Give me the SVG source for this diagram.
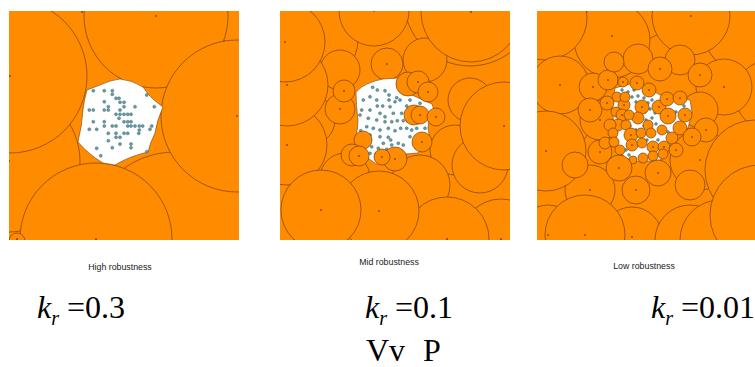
<svg xmlns="http://www.w3.org/2000/svg" width="755" height="367" viewBox="0 0 755 367">
<style>
.o{fill:#FF8C00;stroke:#7a3e0a;stroke-width:0.7}
.h{fill:#fff;stroke:#7a3e0a;stroke-width:0.6}
.d{fill:#6b9ea5;stroke:#3a6870;stroke-width:0.5}
.c{fill:#9b4a1a}
.lab{font-family:"Liberation Sans",Arial,sans-serif;font-size:8.8px;fill:#1a1a1a;text-anchor:middle}
.k{font-family:"Liberation Serif","Times New Roman",serif;font-size:32px;fill:#000}
</style>
<defs>
<clipPath id="cp1"><rect x="9" y="11" width="230" height="229"/></clipPath>
<clipPath id="cp2"><rect x="280" y="11" width="230" height="229"/></clipPath>
<clipPath id="cp3"><rect x="537" y="11" width="218" height="229"/></clipPath>
</defs>
<rect width="755" height="367" fill="#fff"/>

<g id="panel-high" clip-path="url(#cp1)">
<rect x="9" y="11" width="230" height="229" fill="#FF8C00"/>
<circle class="o" cx="260" cy="-5" r="58"/>
<circle class="o" cx="175" cy="240" r="88"/>
<circle class="o" cx="156" cy="16" r="72"/>
<circle class="o" cx="237" cy="116" r="76"/>
<circle class="o" cx="9" cy="161" r="71"/>
<circle class="o" cx="10" cy="76" r="77"/>
<circle class="o" cx="96" cy="239" r="76"/>
<circle class="o" cx="17" cy="241" r="8"/>
<g class="c">
<circle cx="156" cy="16" r="1.1"/><circle cx="10" cy="76" r="1.1"/><circle cx="237" cy="116" r="1.1"/><circle cx="9" cy="161" r="1.1"/><circle cx="96" cy="239" r="1.1"/><circle cx="17" cy="239" r="1.1"/><circle cx="82" cy="12" r="1.1"/>
</g>
<path class="h" d="M120,79 Q132,80 143,87 Q148,95 154,100 L163,107 Q157,120 155,133 Q150,143 148,152 Q130,156 115,165 L103,163 Q88,154 78,142 Q82,126 83,110 Q84,100 87,90 L100,85 Q110,80 120,79 Z"/>
<g class="d">
<circle cx="93.3" cy="90.7" r="1.5"/><circle cx="104.3" cy="90.7" r="1.5"/><circle cx="112.3" cy="90.7" r="1.5"/><circle cx="112.3" cy="94.3" r="1.5"/><circle cx="116" cy="98.3" r="1.5"/><circle cx="119" cy="98.3" r="1.5"/><circle cx="146.7" cy="95" r="1.5"/><circle cx="89.3" cy="110" r="1.5"/><circle cx="93.3" cy="110" r="1.5"/><circle cx="104.3" cy="101.7" r="1.5"/><circle cx="108.3" cy="106.7" r="1.5"/><circle cx="104.3" cy="110" r="1.5"/><circle cx="108.3" cy="110" r="1.5"/><circle cx="120" cy="102.3" r="1.5"/><circle cx="124" cy="102.3" r="1.5"/><circle cx="124" cy="106.7" r="1.5"/><circle cx="135" cy="106.7" r="1.5"/><circle cx="154.3" cy="106.7" r="1.5"/><circle cx="116" cy="114.3" r="1.5"/><circle cx="120" cy="110" r="1.5"/><circle cx="120" cy="114.3" r="1.5"/><circle cx="124" cy="114.3" r="1.5"/><circle cx="127.7" cy="114.3" r="1.5"/><circle cx="131" cy="114.3" r="1.5"/><circle cx="119" cy="118.3" r="1.5"/><circle cx="104.3" cy="121.7" r="1.5"/><circle cx="93.3" cy="121.7" r="1.5"/><circle cx="104.3" cy="126" r="1.5"/><circle cx="112.3" cy="126" r="1.5"/><circle cx="116" cy="126" r="1.5"/><circle cx="124" cy="121.7" r="1.5"/><circle cx="127.7" cy="121.7" r="1.5"/><circle cx="131" cy="121.7" r="1.5"/><circle cx="127.7" cy="126" r="1.5"/><circle cx="131" cy="126" r="1.5"/><circle cx="135" cy="126" r="1.5"/><circle cx="139.3" cy="126" r="1.5"/><circle cx="142.7" cy="126" r="1.5"/><circle cx="139.3" cy="130" r="1.5"/><circle cx="151.7" cy="126" r="1.5"/><circle cx="89.3" cy="129.3" r="1.5"/><circle cx="96.7" cy="129.3" r="1.5"/><circle cx="108.3" cy="133.3" r="1.5"/><circle cx="116" cy="133.3" r="1.5"/><circle cx="124" cy="133.3" r="1.5"/><circle cx="127.7" cy="133.3" r="1.5"/><circle cx="138.7" cy="133.3" r="1.5"/><circle cx="150" cy="129.3" r="1.5"/><circle cx="108.3" cy="140.7" r="1.5"/><circle cx="116" cy="137.3" r="1.5"/><circle cx="120" cy="137.3" r="1.5"/><circle cx="131" cy="144" r="1.5"/><circle cx="131" cy="147.7" r="1.5"/><circle cx="120" cy="144" r="1.5"/><circle cx="112.3" cy="147.7" r="1.5"/><circle cx="96.7" cy="148.3" r="1.5"/><circle cx="100.7" cy="155.7" r="1.5"/><circle cx="146.7" cy="151.7" r="1.5"/>
</g>
</g>

<g id="panel-mid" clip-path="url(#cp2)">
<rect x="280" y="11" width="230" height="229" fill="#FF8C00"/>
<circle class="o" cx="470" cy="0" r="66"/>
<circle class="o" cx="318" cy="40" r="40"/>
<circle class="o" cx="425" cy="60" r="22"/>
<circle class="o" cx="340" cy="70" r="20"/>
<circle class="o" cx="310" cy="120" r="25"/>
<circle class="o" cx="470" cy="100" r="22"/>
<circle class="o" cx="455" cy="150" r="25"/>
<circle class="o" cx="480" cy="165" r="28"/>
<circle class="o" cx="420" cy="185" r="30"/>
<circle class="o" cx="345" cy="178" r="25"/>
<circle class="o" cx="374" cy="11" r="35"/>
<circle class="o" cx="471" cy="12" r="50"/>
<circle class="o" cx="504" cy="126" r="44"/>
<circle class="o" cx="287" cy="145" r="40"/>
<circle class="o" cx="287" cy="85" r="41"/>
<circle class="o" cx="285" cy="42" r="40"/>
<circle class="o" cx="387" cy="64" r="16"/>
<circle class="o" cx="340" cy="109" r="15"/>
<circle class="o" cx="501" cy="239" r="40"/>
<circle class="o" cx="447" cy="239" r="42"/>
<circle class="o" cx="379" cy="211" r="40"/>
<circle class="o" cx="321" cy="210" r="40"/>
<path class="h" d="M356,92 Q362,86 367,84 Q376,80 383,79 L400,78 Q405,86 412,95 L432,104 L434,110 Q428,118 428,128 L430,140 L418,153 L405,154 Q396,158 390,160 L376,164 L368,158 Q364,150 362,146 Q358,140 356,136 Q358,128 358,120 Q356,105 356,92 Z"/>
<g class="d">
<circle cx="372.7" cy="87.3" r="1.5"/><circle cx="377.3" cy="90" r="1.5"/><circle cx="385" cy="90.7" r="1.5"/><circle cx="389" cy="95" r="1.5"/><circle cx="396.7" cy="97.7" r="1.5"/><circle cx="389" cy="100" r="1.5"/><circle cx="395" cy="101.7" r="1.5"/><circle cx="370" cy="96.7" r="1.5"/><circle cx="376.7" cy="100" r="1.5"/><circle cx="363.3" cy="100" r="1.5"/><circle cx="361.7" cy="110" r="1.5"/><circle cx="370" cy="110" r="1.5"/><circle cx="377.3" cy="106" r="1.5"/><circle cx="382.7" cy="106" r="1.5"/><circle cx="390" cy="106.7" r="1.5"/><circle cx="380" cy="113.3" r="1.5"/><circle cx="385" cy="116.7" r="1.5"/><circle cx="393.3" cy="113.3" r="1.5"/><circle cx="401.7" cy="113.3" r="1.5"/><circle cx="406.7" cy="106" r="1.5"/><circle cx="368.3" cy="118.3" r="1.5"/><circle cx="376.7" cy="120" r="1.5"/><circle cx="385" cy="121.7" r="1.5"/><circle cx="391.7" cy="121.7" r="1.5"/><circle cx="397.3" cy="120.7" r="1.5"/><circle cx="403.3" cy="120.7" r="1.5"/><circle cx="407.3" cy="120.7" r="1.5"/><circle cx="411.7" cy="122.7" r="1.5"/><circle cx="418.3" cy="121.7" r="1.5"/><circle cx="366.7" cy="126.7" r="1.5"/><circle cx="373.3" cy="128.3" r="1.5"/><circle cx="380" cy="130" r="1.5"/><circle cx="388.3" cy="128.3" r="1.5"/><circle cx="395" cy="130.7" r="1.5"/><circle cx="400.7" cy="128.3" r="1.5"/><circle cx="406.7" cy="128.3" r="1.5"/><circle cx="416.7" cy="128.3" r="1.5"/><circle cx="425" cy="128.3" r="1.5"/><circle cx="360.7" cy="130.7" r="1.5"/><circle cx="370" cy="135" r="1.5"/><circle cx="380" cy="136.7" r="1.5"/><circle cx="388.3" cy="137.3" r="1.5"/><circle cx="390.7" cy="140" r="1.5"/><circle cx="383.3" cy="143.3" r="1.5"/><circle cx="391.7" cy="145" r="1.5"/><circle cx="398.3" cy="143.3" r="1.5"/><circle cx="403.3" cy="145" r="1.5"/><circle cx="410" cy="136.7" r="1.5"/><circle cx="415" cy="145" r="1.5"/><circle cx="371.7" cy="146.7" r="1.5"/><circle cx="378.3" cy="148.3" r="1.5"/><circle cx="386.7" cy="149.3" r="1.5"/><circle cx="370" cy="153.3" r="1.5"/><circle cx="376" cy="154" r="1.5"/><circle cx="363.3" cy="143.3" r="1.5"/><circle cx="360" cy="115" r="1.5"/><circle cx="411.7" cy="130" r="1.5"/><circle cx="420" cy="103.3" r="1.5"/><circle cx="400" cy="100" r="1.5"/><circle cx="410" cy="100" r="1.5"/>
</g>
<circle class="o" cx="344" cy="91" r="11"/>
<circle class="o" cx="408" cy="84" r="12"/>
<circle class="o" cx="418" cy="82" r="11"/>
<circle class="o" cx="428" cy="92" r="10"/>
<circle class="o" cx="414" cy="115" r="10"/>
<circle class="o" cx="420" cy="115" r="9"/>
<circle class="o" cx="436" cy="117" r="9"/>
<circle class="o" cx="422" cy="142" r="10"/>
<circle class="o" cx="363" cy="140" r="9"/>
<circle class="o" cx="352" cy="155" r="11"/>
<circle class="o" cx="359" cy="156" r="10"/>
<circle class="o" cx="395" cy="159" r="12"/>
<circle class="o" cx="382" cy="157" r="8"/>
<g class="c">
<circle cx="285" cy="42" r="1.1"/><circle cx="287" cy="85" r="1.1"/><circle cx="287" cy="145" r="1.1"/><circle cx="374" cy="11" r="1.1"/><circle cx="471" cy="12" r="1.1"/><circle cx="504" cy="126" r="1.1"/><circle cx="321" cy="210" r="1.1"/><circle cx="379" cy="211" r="1.1"/><circle cx="447" cy="239" r="1.1"/><circle cx="501" cy="239" r="1.1"/><circle cx="387" cy="64" r="1.1"/><circle cx="344" cy="91" r="1.1"/><circle cx="340" cy="109" r="1.1"/><circle cx="418" cy="82" r="1.1"/><circle cx="428" cy="92" r="1.1"/><circle cx="420" cy="115" r="1.1"/><circle cx="436" cy="117" r="1.1"/><circle cx="422" cy="142" r="1.1"/><circle cx="359" cy="156" r="1.1"/><circle cx="382" cy="157" r="1.1"/><circle cx="395" cy="159" r="1.1"/>
</g>
</g>

<g id="panel-low" clip-path="url(#cp3)">
<rect x="537" y="11" width="218" height="229" fill="#FF8C00"/>
<circle class="o" cx="720" cy="50" r="30"/>
<circle class="o" cx="640" cy="10" r="30"/>
<circle class="o" cx="745" cy="30" r="42"/>
<circle class="o" cx="612" cy="40" r="38"/>
<circle class="o" cx="545" cy="18" r="42"/>
<circle class="o" cx="691" cy="16" r="39"/>
<circle class="o" cx="770" cy="95" r="35"/>
<circle class="o" cx="724" cy="87" r="28"/>
<circle class="o" cx="700" cy="160" r="30"/>
<circle class="o" cx="570" cy="125" r="20"/>
<circle class="o" cx="600" cy="120" r="20"/>
<circle class="o" cx="590" cy="190" r="25"/>
<circle class="o" cx="700" cy="110" r="18"/>
<circle class="o" cx="638" cy="59" r="15"/>
<circle class="o" cx="680" cy="60" r="15"/>
<circle class="o" cx="560" cy="85" r="29"/>
<circle class="o" cx="593" cy="87" r="14"/>
<circle class="o" cx="546" cy="151" r="40"/>
<circle class="o" cx="755" cy="170" r="50"/>
<circle class="o" cx="548" cy="235" r="30"/>
<circle class="o" cx="632" cy="237" r="30"/>
<circle class="o" cx="585" cy="235" r="40"/>
<circle class="o" cx="690" cy="240" r="35"/>
<circle class="o" cx="720" cy="240" r="40"/>
<circle class="o" cx="760" cy="215" r="50"/>
<circle class="o" cx="660" cy="69" r="12"/>
<circle class="o" cx="608" cy="80" r="10"/>
<circle class="o" cx="590" cy="110" r="12"/>
<circle class="o" cx="600" cy="152" r="12"/>
<circle class="o" cx="575" cy="165" r="13"/>
<circle class="o" cx="700" cy="75" r="12"/>
<circle class="o" cx="706" cy="130" r="12"/>
<circle class="o" cx="690" cy="185" r="15"/>
<circle class="o" cx="636" cy="190" r="14"/>
<circle class="o" cx="614" cy="62" r="10"/>
<path class="h" d="M615,88 L630,84 L645,86 L660,95 L690,100 L692,112 L688,128 L675,135 L668,150 L660,160 L640,162 L625,158 L618,148 L615,130 L612,110 Z"/>
<g class="d">
<circle cx="622" cy="90" r="1.4"/><circle cx="628" cy="92" r="1.4"/><circle cx="634" cy="90" r="1.4"/><circle cx="626" cy="98" r="1.4"/><circle cx="632" cy="97" r="1.4"/><circle cx="638" cy="96" r="1.4"/><circle cx="644" cy="98" r="1.4"/><circle cx="636" cy="102" r="1.4"/><circle cx="642" cy="104" r="1.4"/><circle cx="648" cy="103" r="1.4"/><circle cx="652" cy="100" r="1.4"/><circle cx="638" cy="110" r="1.4"/><circle cx="645" cy="112" r="1.4"/><circle cx="650" cy="109" r="1.4"/><circle cx="655" cy="113" r="1.4"/><circle cx="640" cy="118" r="1.4"/><circle cx="646" cy="120" r="1.4"/><circle cx="652" cy="118" r="1.4"/><circle cx="656" cy="124" r="1.4"/><circle cx="644" cy="126" r="1.4"/><circle cx="650" cy="128" r="1.4"/><circle cx="660" cy="112" r="1.4"/><circle cx="664" cy="118" r="1.4"/><circle cx="669" cy="113" r="1.4"/><circle cx="672" cy="120" r="1.4"/><circle cx="676" cy="112" r="1.4"/><circle cx="678" cy="125" r="1.4"/><circle cx="682" cy="118" r="1.4"/><circle cx="684" cy="106" r="1.4"/><circle cx="626" cy="150" r="1.4"/><circle cx="629" cy="155" r="1.4"/><circle cx="620" cy="110" r="1.4"/><circle cx="620" cy="122" r="1.4"/><circle cx="630" cy="126" r="1.4"/><circle cx="636" cy="130" r="1.4"/><circle cx="658" cy="140" r="1.4"/><circle cx="647" cy="140" r="1.4"/><circle cx="668" cy="132" r="1.4"/>
</g>
<circle class="o" cx="623" cy="82" r="5"/>
<circle class="o" cx="637" cy="83" r="7"/>
<circle class="o" cx="649" cy="90" r="7"/>
<circle class="o" cx="659" cy="107" r="7"/>
<circle class="o" cx="667" cy="99" r="7"/>
<circle class="o" cx="680" cy="98" r="7"/>
<circle class="o" cx="685" cy="115" r="7"/>
<circle class="o" cx="668" cy="116" r="8"/>
<circle class="o" cx="642" cy="107" r="7"/>
<circle class="o" cx="648" cy="125" r="5"/>
<circle class="o" cx="638" cy="118" r="6"/>
<circle class="o" cx="624" cy="105" r="6"/>
<circle class="o" cx="617" cy="97" r="5"/>
<circle class="o" cx="625" cy="97" r="5"/>
<circle class="o" cx="607" cy="103" r="7"/>
<circle class="o" cx="616" cy="112" r="5"/>
<circle class="o" cx="622" cy="115" r="6"/>
<circle class="o" cx="629" cy="115" r="5"/>
<circle class="o" cx="618" cy="125" r="6"/>
<circle class="o" cx="626" cy="125" r="5"/>
<circle class="o" cx="610" cy="125" r="6"/>
<circle class="o" cx="613" cy="133" r="5"/>
<circle class="o" cx="605" cy="143" r="6"/>
<circle class="o" cx="614" cy="142" r="5"/>
<circle class="o" cx="620" cy="150" r="5"/>
<circle class="o" cx="631" cy="135" r="7"/>
<circle class="o" cx="641" cy="133" r="5"/>
<circle class="o" cx="651" cy="133" r="5"/>
<circle class="o" cx="662" cy="130" r="5"/>
<circle class="o" cx="680" cy="128" r="7"/>
<circle class="o" cx="672" cy="138" r="6"/>
<circle class="o" cx="692" cy="137" r="9"/>
<circle class="o" cx="632" cy="145" r="6"/>
<circle class="o" cx="642" cy="143" r="5"/>
<circle class="o" cx="653" cy="147" r="6"/>
<circle class="o" cx="664" cy="147" r="6"/>
<circle class="o" cx="653" cy="156" r="5"/>
<circle class="o" cx="663" cy="154" r="5"/>
<circle class="o" cx="676" cy="150" r="7"/>
<circle class="o" cx="643" cy="158" r="5"/>
<circle class="o" cx="633" cy="160" r="4"/>
<circle class="o" cx="619" cy="168" r="13"/>
<circle class="o" cx="658" cy="173" r="13"/>
<g class="c">
<circle cx="560" cy="85" r="1.1"/><circle cx="546" cy="151" r="1.1"/><circle cx="612" cy="36" r="1.1"/><circle cx="691" cy="16" r="1.1"/><circle cx="724" cy="87" r="1.1"/><circle cx="619" cy="168" r="1.1"/><circle cx="658" cy="173" r="1.1"/><circle cx="593" cy="87" r="1.1"/><circle cx="660" cy="69" r="1.1"/><circle cx="608" cy="80" r="1.1"/><circle cx="585" cy="235" r="1.1"/><circle cx="632" cy="237" r="1.1"/><circle cx="548" cy="235" r="1.1"/><circle cx="623" cy="82" r="1"/><circle cx="637" cy="83" r="1"/><circle cx="649" cy="90" r="1"/><circle cx="659" cy="107" r="1"/><circle cx="667" cy="99" r="1"/><circle cx="680" cy="98" r="1"/><circle cx="685" cy="115" r="1"/><circle cx="668" cy="116" r="1"/><circle cx="642" cy="107" r="1"/><circle cx="624" cy="105" r="1"/><circle cx="607" cy="103" r="1"/><circle cx="622" cy="115" r="1"/><circle cx="631" cy="135" r="1"/><circle cx="692" cy="137" r="1"/><circle cx="632" cy="145" r="1"/><circle cx="653" cy="147" r="1"/><circle cx="664" cy="147" r="1"/><circle cx="676" cy="150" r="1"/><circle cx="600" cy="120" r="1.1"/><circle cx="590" cy="190" r="1.1"/><circle cx="700" cy="160" r="1.1"/><circle cx="590" cy="110" r="1"/><circle cx="600" cy="152" r="1"/><circle cx="700" cy="75" r="1"/><circle cx="706" cy="130" r="1"/><circle cx="636" cy="190" r="1"/>
</g>
</g>

<g id="labels">
<text class="lab" x="120" y="270">High robustness</text>
<text class="lab" x="389" y="265">Mid robustness</text>
<text class="lab" x="644" y="269">Low robustness</text>
<text class="k" x="37" y="318"><tspan font-style="italic">k</tspan><tspan font-style="italic" font-size="20" dy="7">r</tspan><tspan dy="-7" dx="8">=0.3</tspan></text>
<text class="k" x="365" y="318"><tspan font-style="italic">k</tspan><tspan font-style="italic" font-size="20" dy="7">r</tspan><tspan dy="-7" dx="8">=0.1</tspan></text>
<text class="k" x="651" y="318"><tspan font-style="italic">k</tspan><tspan font-style="italic" font-size="20" dy="7">r</tspan><tspan dy="-7" dx="8">=0.01</tspan></text>
<text class="k" x="366" y="361" font-size="27">Vv</text>
<text class="k" x="423" y="361" font-size="27">P</text>
</g>
</svg>
